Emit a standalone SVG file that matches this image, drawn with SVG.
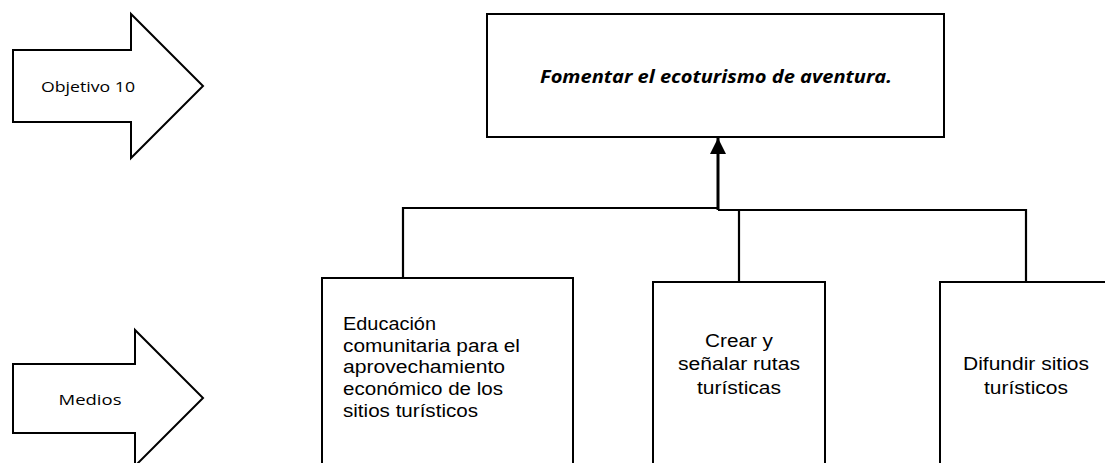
<svg xmlns="http://www.w3.org/2000/svg" width="1105" height="463" viewBox="0 0 1105 463">
<style>
.shape{fill:#fff;stroke:#000;stroke-width:2}
.conn{fill:none;stroke:#000;stroke-width:2.2}
.lbl{font-family:"Open Sans","Liberation Sans",sans-serif;font-size:15px;fill:#000}
.box{font-family:"Liberation Sans",Arial,sans-serif;font-size:17.5px;fill:#000}
.goal{font-family:"Open Sans","Liberation Sans",sans-serif;font-size:18px;font-weight:bold;font-style:italic;fill:#000}
</style>
<defs>
<marker id="ah" markerWidth="16" markerHeight="16" viewBox="0 0 16 16" refX="16" refY="8" orient="auto" markerUnits="userSpaceOnUse">
<path d="M0,0 L16,8 L0,16 Z" fill="#000"/>
</marker>
</defs>
<rect width="1105" height="463" fill="#fff"/>
<g id="arrow-objetivo">
<polygon class="shape" points="13,50 131,50 131,14 203,86 131,158 131,122 13,122"/>
<text class="lbl" x="88" y="92" text-anchor="middle" textLength="94" lengthAdjust="spacingAndGlyphs">Objetivo 10</text>
</g>
<g id="arrow-medios">
<polygon class="shape" points="13,364 135,364 135,330 203,398 135,466 135,433 13,433"/>
<text class="lbl" x="90" y="405" text-anchor="middle" textLength="63" lengthAdjust="spacingAndGlyphs">Medios</text>
</g>
<g id="goal">
<rect class="shape" x="487" y="14" width="457" height="123"/>
<text class="goal" x="716" y="83" text-anchor="middle" textLength="352" lengthAdjust="spacingAndGlyphs">Fomentar el ecoturismo de aventura.</text>
</g>
<g id="connectors">
<polyline class="conn" points="403,278 403,208 718,208"/>
<polyline class="conn" points="718,210 1026,210 1026,282"/>
<line class="conn" x1="739" y1="210" x2="739" y2="282"/>
<line x1="718" y1="210" x2="718" y2="138" stroke="#000" stroke-width="3" marker-end="url(#ah)"/>
</g>
<g id="medio-educacion">
<rect class="shape" x="322" y="278" width="251" height="200"/>
<text class="box" x="343" y="330" textLength="93" lengthAdjust="spacingAndGlyphs">Educación</text>
<text class="box" x="343" y="352" textLength="177" lengthAdjust="spacingAndGlyphs">comunitaria para el</text>
<text class="box" x="343" y="373" textLength="162" lengthAdjust="spacingAndGlyphs">aprovechamiento</text>
<text class="box" x="343" y="395" textLength="160" lengthAdjust="spacingAndGlyphs">económico de los</text>
<text class="box" x="343" y="417" textLength="135" lengthAdjust="spacingAndGlyphs">sitios turísticos</text>
</g>
<g id="medio-rutas">
<rect class="shape" x="653" y="282" width="172" height="200"/>
<text class="box" x="739" y="347" text-anchor="middle" textLength="68" lengthAdjust="spacingAndGlyphs">Crear y</text>
<text class="box" x="739" y="370" text-anchor="middle" textLength="122" lengthAdjust="spacingAndGlyphs">señalar rutas</text>
<text class="box" x="739" y="394" text-anchor="middle" textLength="84" lengthAdjust="spacingAndGlyphs">turísticas</text>
</g>
<g id="medio-difundir">
<rect class="shape" x="940" y="282" width="200" height="200"/>
<text class="box" x="1026" y="370" text-anchor="middle" textLength="126" lengthAdjust="spacingAndGlyphs">Difundir sitios</text>
<text class="box" x="1026" y="394" text-anchor="middle" textLength="84" lengthAdjust="spacingAndGlyphs">turísticos</text>
</g>
</svg>
